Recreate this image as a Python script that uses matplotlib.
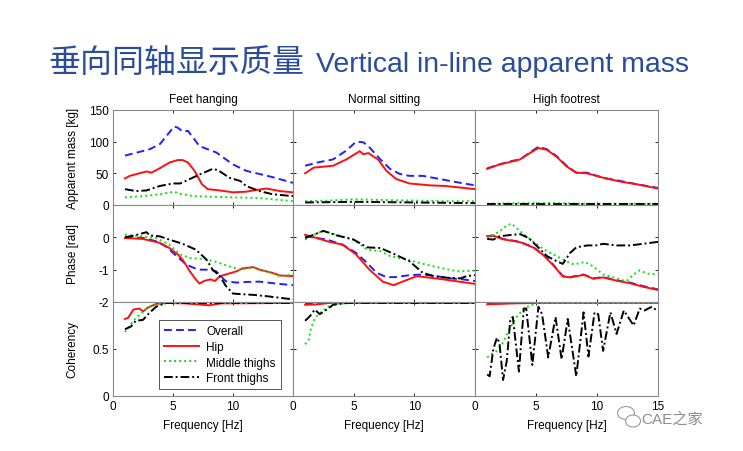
import numpy as np
import matplotlib
matplotlib.use('Agg')
import matplotlib.pyplot as plt
from matplotlib.patches import Ellipse

plt.rcParams['font.family'] = ['Liberation Sans', 'Noto Sans CJK SC', 'DejaVu Sans']

# column titles, row labels, legend names
postures = ['Feet hanging', 'Normal sitting', 'High footrest']
row_labels = ['Apparent mass [kg]', 'Phase [rad]', 'Coherency']
series_names = ['Overall', 'Hip', 'Middle thighs', 'Front thighs']

# (frequency [Hz], value)
# apparent mass [kg]
mass_fh_overall = [(1.0, 78), (3.05, 88), (3.9, 96), (5.1, 124), (5.4, 122), (5.8, 116), (6.25, 117), (7.2, 93),
                   (8.6, 83), (10.0, 64), (11.1, 54), (12.2, 49), (13.3, 44), (15.0, 35)]
mass_fh_hip = [(1.0, 42), (1.4, 46), (2.2, 50), (2.8, 53), (3.2, 51), (3.9, 58), (4.7, 67), (5.4, 71), (5.8, 71),
               (6.25, 67), (6.8, 54), (7.4, 33), (7.9, 25), (8.9, 23), (10.0, 20), (11.1, 21), (11.7, 23),
               (12.8, 26), (13.9, 22), (15.0, 20)]
mass_fh_middle = [(1.0, 12), (2.5, 14), (3.9, 17), (5.1, 21), (5.5, 18), (6.7, 14), (8.3, 13), (10.0, 12),
                  (12.2, 11), (15.0, 6)]
mass_fh_front = [(1.0, 25), (1.9, 22), (2.8, 23), (3.9, 30), (5.0, 34), (5.6, 34), (6.4, 41), (7.2, 48), (8.3, 57),
                 (8.75, 55), (9.7, 43), (10.6, 38), (11.1, 30), (12.2, 22), (13.3, 17), (15.0, 14)]

mass_ns_overall = [(1.0, 62), (2.0, 67), (3.3, 72), (4.4, 86), (5.2, 100), (5.8, 99), (6.3, 91), (7.2, 72),
                   (8.0, 57), (8.8, 49), (9.6, 46), (10.7, 46), (12.1, 41), (13.5, 36), (15.0, 31)]
mass_ns_hip = [(1.0, 50), (1.7, 59), (3.3, 62), (4.4, 72), (5.5, 85), (5.8, 80), (6.2, 82), (7.0, 72), (7.7, 54),
               (8.5, 41), (9.6, 34), (11.3, 31), (12.6, 30), (15.0, 25)]
mass_ns_middle = [(1.0, 6), (3.0, 7), (5.0, 9), (7.0, 8), (10.0, 7), (12.5, 6), (15.0, 6)]
mass_ns_front = [(1.0, 4), (5.0, 5), (10.0, 4), (15.0, 3)]

mass_hf_overall = [(1.0, 58), (2.0, 64), (2.9, 69), (3.7, 72), (4.5, 83), (5.2, 92), (5.9, 88), (6.7, 77),
                   (7.5, 62), (8.3, 51), (9.2, 51), (10.5, 43), (11.9, 38), (13.2, 33), (15.0, 27)]
mass_hf_hip = [(1.0, 57), (2.0, 64), (2.9, 68), (3.7, 72), (4.5, 82), (5.2, 90), (5.9, 87), (6.7, 76), (7.5, 61),
               (8.3, 51), (9.2, 50), (10.5, 43), (11.9, 37), (13.2, 33), (15.0, 26)]
mass_hf_middle = [(1.0, 2), (4.0, 3), (6.0, 3), (9.0, 2), (15.0, 2)]
mass_hf_front = [(1.0, 1), (15.0, 1)]

# phase [rad]
phase_fh_overall = [(1.0, 0.0), (2.5, -0.02), (3.6, -0.12), (4.4, -0.28), (5.3, -0.58), (6.1, -0.84), (6.7, -0.94),
                    (7.2, -1.0), (8.1, -1.0), (8.6, -1.05), (9.4, -1.36), (10.3, -1.4), (11.1, -1.38), (12.2, -1.37),
                    (13.6, -1.43), (15.0, -1.48)]
phase_fh_hip = [(1.0, -0.02), (2.5, -0.05), (3.9, -0.17), (4.7, -0.33), (5.4, -0.53), (5.8, -0.69), (6.4, -1.05),
                (6.9, -1.3), (7.2, -1.43), (7.6, -1.35), (8.1, -1.3), (8.5, -1.35), (8.9, -1.2), (9.4, -1.15),
                (10.3, -1.05), (10.8, -0.96), (11.7, -0.92), (12.2, -1.0), (13.3, -1.1), (13.9, -1.18), (15.0, -1.2)]
phase_fh_middle = [(1.0, 0.08), (2.5, 0.03), (3.6, -0.02), (4.7, -0.23), (5.6, -0.53), (6.4, -0.64), (7.5, -0.67),
                   (8.6, -0.76), (9.7, -0.9), (10.6, -1.0), (11.7, -0.94), (12.8, -1.05), (13.9, -1.2), (15.0, -1.15)]
phase_fh_front = [(1.0, 0.0), (1.8, 0.06), (2.8, 0.16), (3.05, 0.06), (3.9, 0.03), (4.7, -0.07), (5.8, -0.2),
                  (6.9, -0.38), (7.8, -0.69), (8.3, -1.0), (8.9, -1.2), (9.4, -1.5), (10.0, -1.74), (10.8, -1.76),
                  (11.7, -1.78), (12.8, -1.82), (13.9, -1.87), (15.0, -1.92)]

phase_ns_overall = [(1.0, 0.03), (1.95, -0.02), (2.8, -0.07), (4.1, -0.23), (5.2, -0.48), (6.1, -0.79), (6.9, -1.1),
                    (7.7, -1.23), (8.5, -1.23), (9.6, -1.17), (10.7, -1.15), (11.8, -1.2), (13.0, -1.27),
                    (14.0, -1.3), (15.0, -1.35)]
phase_ns_hip = [(1.0, 0.08), (1.95, -0.02), (2.8, -0.12), (4.1, -0.23), (5.2, -0.53), (6.3, -1.0), (7.4, -1.37),
                (8.3, -1.48), (9.1, -1.36), (10.2, -1.2), (11.3, -1.25), (12.4, -1.3), (13.5, -1.36), (15.0, -1.44)]
phase_ns_middle = [(1.0, -0.07), (1.7, 0.08), (2.5, 0.2), (3.6, 0.08), (5.0, -0.07), (6.1, -0.38), (7.2, -0.43),
                   (8.0, -0.58), (9.4, -0.69), (10.7, -0.82), (12.1, -0.94), (13.5, -1.05), (15.0, -1.03)]
phase_ns_front = [(1.0, -0.02), (1.7, 0.08), (2.5, 0.2), (3.6, 0.06), (5.0, -0.07), (6.1, -0.31), (7.2, -0.33),
                  (8.3, -0.51), (9.6, -0.74), (10.7, -1.1), (11.6, -1.2), (12.7, -1.25), (13.8, -1.27), (14.3, -1.2),
                  (15.0, -1.17)]

phase_hf_overall = [(1.0, 0.03), (1.5, 0.06), (2.3, -0.05), (3.7, -0.14), (4.8, -0.31), (5.6, -0.53), (6.4, -0.84),
                    (7.2, -1.2), (7.8, -1.23), (8.9, -1.15), (9.7, -1.27), (10.5, -1.23), (11.6, -1.33),
                    (12.7, -1.4), (13.8, -1.51), (15.0, -1.61)]
phase_hf_hip = [(1.0, 0.04), (1.5, 0.05), (2.3, -0.06), (3.7, -0.15), (4.8, -0.32), (5.6, -0.55), (6.4, -0.86),
                (7.2, -1.21), (7.8, -1.24), (8.9, -1.16), (9.7, -1.28), (10.5, -1.24), (11.6, -1.34), (12.7, -1.42),
                (13.8, -1.53), (15.0, -1.63)]
phase_hf_middle = [(1.0, -0.02), (2.0, 0.18), (2.6, 0.37), (3.0, 0.42), (3.4, 0.29), (4.2, 0.03), (5.3, -0.28),
                   (5.9, -0.43), (6.7, -0.58), (7.5, -0.74), (8.1, -0.84), (9.0, -0.76), (9.7, -0.9), (10.5, -1.15),
                   (11.6, -1.27), (12.4, -1.36), (13.0, -1.15), (13.5, -1.02), (14.1, -1.12), (15.0, -1.15)]
phase_hf_front = [(1.0, -0.05), (1.5, -0.07), (2.0, 0.03), (2.6, 0.06), (3.7, 0.1), (4.4, -0.02), (5.1, -0.28),
                  (5.9, -0.58), (6.7, -0.74), (7.2, -0.82), (7.8, -0.48), (8.3, -0.31), (9.2, -0.25), (9.9, -0.25),
                  (10.5, -0.2), (11.6, -0.25), (12.7, -0.25), (13.8, -0.2), (15.0, -0.14)]

# coherency
coh_fh_overall = [(1.0, 0.995), (15.0, 0.995)]
coh_fh_hip = [(1.0, 0.82), (1.25, 0.83), (1.7, 0.92), (2.2, 0.93), (2.5, 0.9), (2.9, 0.94), (3.6, 0.98), (4.4, 0.99),
              (6.0, 0.985), (8.0, 0.965), (9.0, 0.985), (15.0, 0.99)]
coh_fh_middle = [(1.0, 0.68), (1.7, 0.8), (2.5, 0.9), (3.0, 0.95), (3.9, 0.98), (5.0, 0.99), (15.0, 0.99)]
coh_fh_front = [(1.0, 0.71), (1.5, 0.74), (1.9, 0.8), (2.5, 0.81), (3.0, 0.88), (3.6, 0.95), (4.4, 0.99), (15.0, 0.99)]

coh_ns_overall = [(1.0, 0.985), (3.0, 0.995), (15.0, 0.995)]
coh_ns_hip = [(1.0, 0.97), (2.0, 0.975), (3.0, 0.99), (15.0, 0.99)]
coh_ns_middle = [(1.0, 0.55), (1.3, 0.6), (1.5, 0.73), (1.8, 0.83), (2.2, 0.88), (2.8, 0.94), (3.3, 0.98),
                 (5.0, 0.99), (15.0, 0.99)]
coh_ns_front = [(1.0, 0.8), (1.4, 0.85), (1.8, 0.92), (2.2, 0.87), (2.8, 0.92), (3.3, 0.97), (4.5, 0.99), (15.0, 0.99)]

coh_hf_overall = [(1.0, 0.985), (4.0, 0.99), (15.0, 0.995)]
coh_hf_hip = [(1.0, 0.975), (3.0, 0.985), (5.0, 0.99), (15.0, 0.99)]
coh_hf_middle = [(1.0, 0.41), (1.4, 0.45), (1.8, 0.48), (2.3, 0.57), (2.9, 0.73), (3.4, 0.84), (4.0, 0.93),
                 (4.5, 0.96), (5.1, 0.99), (15.0, 0.99)]
coh_hf_front = [(1.0, 0.23), (1.2, 0.21), (1.5, 0.5), (1.8, 0.62), (2.0, 0.57), (2.3, 0.17), (2.6, 0.37), (2.9, 0.82),
                (3.1, 0.84), (3.6, 0.26), (4.0, 0.93), (4.2, 0.93), (4.7, 0.33), (5.2, 0.95), (5.5, 0.87), (6.0, 0.41),
                (6.6, 0.84), (7.1, 0.39), (7.6, 0.82), (8.3, 0.21), (8.9, 0.89), (9.3, 0.42), (9.8, 0.89),
                (10.1, 0.87), (10.5, 0.48), (11.1, 0.89), (11.6, 0.66), (12.2, 0.91), (12.4, 0.87), (13.0, 0.75),
                (13.5, 0.93), (13.9, 0.91), (14.5, 0.95), (14.9, 0.91)]

panels = [
    [[mass_fh_overall, mass_fh_hip, mass_fh_middle, mass_fh_front],
     [mass_ns_overall, mass_ns_hip, mass_ns_middle, mass_ns_front],
     [mass_hf_overall, mass_hf_hip, mass_hf_middle, mass_hf_front]],
    [[phase_fh_overall, phase_fh_hip, phase_fh_middle, phase_fh_front],
     [phase_ns_overall, phase_ns_hip, phase_ns_middle, phase_ns_front],
     [phase_hf_overall, phase_hf_hip, phase_hf_middle, phase_hf_front]],
    [[coh_fh_overall, coh_fh_hip, coh_fh_middle, coh_fh_front],
     [coh_ns_overall, coh_ns_hip, coh_ns_middle, coh_ns_front],
     [coh_hf_overall, coh_hf_hip, coh_hf_middle, coh_hf_front]],
]

# line styles, matlab-like
colors = ['#1f1fff', '#ff1010', '#10e010', 'black']
styles = [(0, (4, 2.2)), '-', (0, (1, 1.6)), (0, (4.5, 1.5, 1, 1.5))]
ylims = [(0, 150), (-2, 1), (0, 1)]
yticks = [[0, 50, 100, 150], [-2, -1, 0], [0, 0.5]]
yticklabels = [['0', '50', '100', '150'], ['-2', '-1', '0'], ['0', '0.5']]

W, H = 743, 452
fig = plt.figure(figsize=(W / 100, H / 100), dpi=100)

col_x = [113, 293, 475]
col_w = [180, 182, 183]
row_y = [(111, 206), (206, 303), (303, 397)]

for r in range(3):
    for c in range(3):
        top, bot = row_y[r]
        ax = fig.add_axes([col_x[c] / W, 1 - bot / H, col_w[c] / W, (bot - top) / H])
        for k in range(4):
            f, v = zip(*panels[r][c][k])
            ax.plot(f, v, color=colors[k], linestyle=styles[k], linewidth=1.4,
                    label=series_names[k])
        ax.set_xlim(0, 15)
        ax.set_ylim(*ylims[r])
        ax.set_xticks([0, 5, 10, 15])
        ax.set_yticks(yticks[r])
        ax.tick_params(direction='in', top=True, right=True, length=2.5, width=0.6,
                       labelsize=8.5, pad=3)
        for sp in ax.spines.values():
            sp.set_color('#8a8a8a')
            sp.set_linewidth(0.8)
        if c == 0:
            ax.set_yticklabels(yticklabels[r])
            ax.set_ylabel(row_labels[r], fontsize=8.5)
            ax.yaxis.set_label_coords(-0.19, 0.5)
        else:
            ax.set_yticklabels([])
        if r == 2:
            ax.set_xticklabels(['0', '5', '10', '15' if c == 2 else ''])
            ax.set_xlabel('Frequency [Hz]', fontsize=8.5, labelpad=5)
        else:
            ax.set_xticklabels([])
        if r == 0:
            ax.set_title(postures[c], fontsize=8.5, pad=6)
        if r == 2 and c == 0:
            leg = ax.legend(loc='upper left', bbox_to_anchor=(0.22, 0.87), fontsize=8.5,
                            handlelength=3.0, fancybox=False, framealpha=1,
                            borderpad=0.45, labelspacing=0.3, handletextpad=0.6)
            leg.get_frame().set_edgecolor('#555555')
            leg.get_frame().set_linewidth(0.7)

# slide title
title_color = '#2a4c9c'
fig.text(48 / W, 1 - 72 / H, '垂向同轴显示质量', fontsize=23, color=title_color,
         family=['Noto Sans CJK SC'], va='baseline')
fig.text(316 / W, 1 - 72 / H, 'Vertical in-line apparent mass', fontsize=20.5,
         color=title_color, family=['Liberation Sans'], va='baseline')

# watermark
fig.text(641 / W, 1 - 420 / H, 'CAE之家', fontsize=11, color='#8c8c8c', va='center',
         family=['Liberation Sans', 'Noto Sans CJK SC'])
fig.patches.append(Ellipse((626 / W, 1 - 414 / H), 17 / W, 13 / H, fill=False,
                           edgecolor='#9a9a9a', linewidth=0.8, transform=fig.transFigure))
fig.patches.append(Ellipse((633 / W, 1 - 422 / H), 15 / W, 12 / H, facecolor='white',
                           edgecolor='#9a9a9a', linewidth=0.8, transform=fig.transFigure))

fig.savefig('out.png', dpi=100)
